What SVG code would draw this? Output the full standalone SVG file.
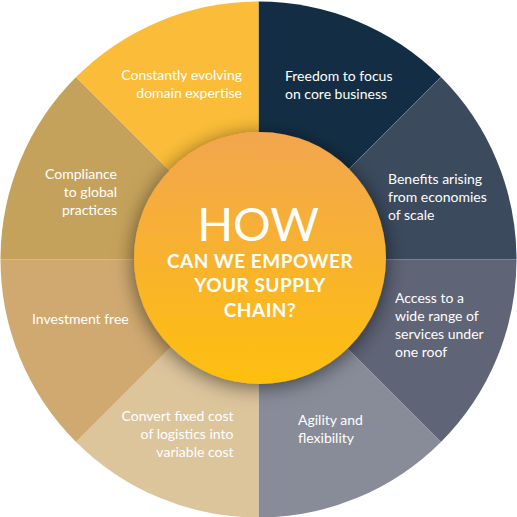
<svg xmlns="http://www.w3.org/2000/svg" width="517" height="517" viewBox="0 0 517 517">
  <defs>
    <linearGradient id="hub" x1="0" y1="0" x2="0" y2="1">
      <stop offset="0" stop-color="#F2A64F"/>
      <stop offset="1" stop-color="#FEBF0E"/>
    </linearGradient>
    <filter id="shadow" x="-30%" y="-30%" width="160%" height="160%">
      <feDropShadow dx="0" dy="3" stdDeviation="10" flood-color="#000" flood-opacity="0.55"/>
    </filter>
    <style>
      .seg text { font-family: Lato, "Open Sans", "Liberation Sans", sans-serif; font-size: 14px; fill: #ffffff; }
      .r { text-anchor: end; }
      .hub text { font-family: Lato, "Open Sans", "Liberation Sans", sans-serif; fill: #ffffff; text-anchor: middle; }
      .sub { font-size: 19px; font-weight: 700; letter-spacing: 0.5px; }
      .sep { stroke: #ffffff; stroke-opacity: 0.12; stroke-width: 1; }
    </style>
  </defs>
  <rect width="517" height="517" fill="#ffffff"/>

  <g id="seg-freedom" class="seg">
    <path d="M258.5 259.5 L258.5 1.5 A258 258 0 0 1 440.93 77.07 Z" fill="#132E44"/>
    <text x="285" y="81">Freedom to focus</text>
    <text x="285" y="99">on core business</text>
  </g>
  <g id="seg-benefits" class="seg">
    <path d="M258.5 259.5 L440.93 77.07 A258 258 0 0 1 516.5 259.5 Z" fill="#3B4A5D"/>
    <text x="388" y="184">Benefits arising</text>
    <text x="388" y="202">from economies</text>
    <text x="388" y="220">of scale</text>
  </g>
  <g id="seg-access" class="seg">
    <path d="M258.5 259.5 L516.5 259.5 A258 258 0 0 1 440.93 441.93 Z" fill="#5F6476"/>
    <text x="395" y="303">Access to a</text>
    <text x="395" y="321">wide range of</text>
    <text x="395" y="339">services under</text>
    <text x="395" y="357">one roof</text>
  </g>
  <g id="seg-agility" class="seg">
    <path d="M258.5 259.5 L440.93 441.93 A258 258 0 0 1 258.5 517.5 Z" fill="#878C98"/>
    <text x="298" y="425">Agility and</text>
    <text x="298" y="443">flexibility</text>
  </g>
  <g id="seg-convert" class="seg">
    <path d="M258.5 259.5 L258.5 517.5 A258 258 0 0 1 76.07 441.93 Z" fill="#DCC49B"/>
    <text class="r" x="233.5" y="421">Convert fixed cost</text>
    <text class="r" x="233.5" y="439">of logistics into</text>
    <text class="r" x="233.5" y="456.5">variable cost</text>
  </g>
  <g id="seg-investment" class="seg">
    <path d="M258.5 259.5 L76.07 441.93 A258 258 0 0 1 0.5 259.5 Z" fill="#CFA970"/>
    <text x="32" y="324">Investment free</text>
  </g>
  <g id="seg-compliance" class="seg">
    <path d="M258.5 259.5 L0.5 259.5 A258 258 0 0 1 76.07 77.07 Z" fill="#C5A25B"/>
    <text class="r" x="117" y="179">Compliance</text>
    <text class="r" x="117" y="197">to global</text>
    <text class="r" x="117" y="214.5">practices</text>
  </g>
  <g id="seg-constantly" class="seg">
    <path d="M258.5 259.5 L76.07 77.07 A258 258 0 0 1 258.5 1.5 Z" fill="#FBBD39"/>
    <text class="r" x="242" y="80">Constantly evolving</text>
    <text class="r" x="242" y="98">domain expertise</text>
  </g>

  <g id="connectors">
    <line class="sep" x1="258.5" y1="259.5" x2="440.93" y2="77.07"/>
  </g>

  <g id="hub" class="hub">
    <circle cx="260" cy="258" r="126" fill="url(#hub)" filter="url(#shadow)"/>
    <text x="258" y="241" font-size="47" font-weight="400">HOW</text>
    <text class="sub" x="260" y="268">CAN WE EMPOWER</text>
    <text class="sub" x="260" y="292">YOUR SUPPLY</text>
    <text class="sub" x="260" y="317">CHAIN?</text>
  </g>
</svg>
